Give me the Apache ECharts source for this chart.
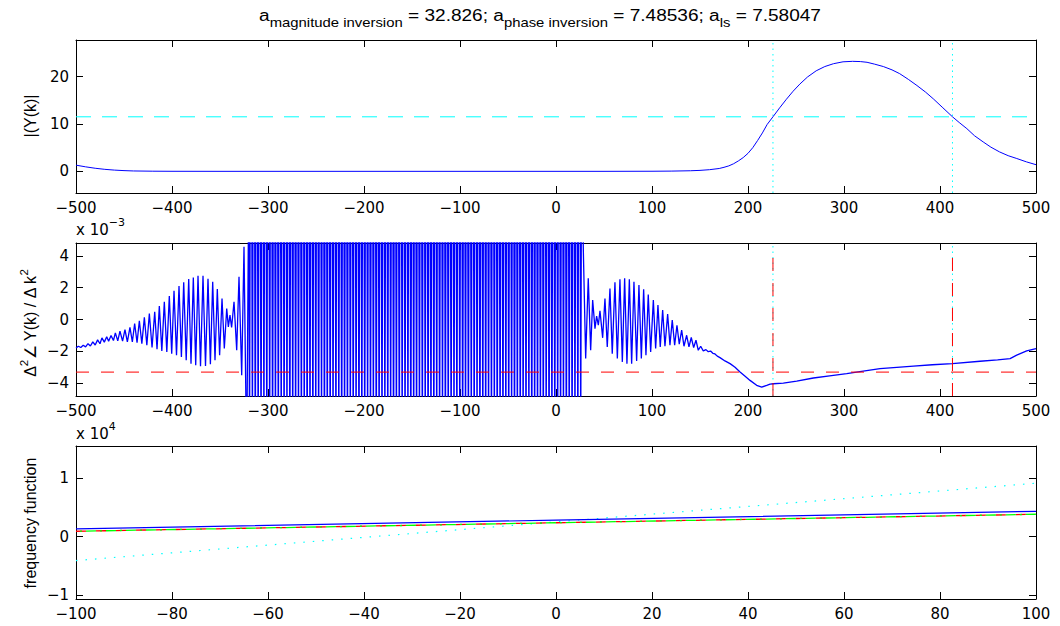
<!DOCTYPE html>
<html>
<head>
<meta charset="utf-8">
<script src="https://cdn.jsdelivr.net/npm/echarts@6/dist/echarts.min.js"></script>
<style>
  html, body { margin: 0; padding: 0; background: #fff; }
  #chart { width: 1060px; height: 626px; }
</style>
</head>
<body>
<div id="chart"></div>
<script>
// ---------- data ----------
// |Y(k)| magnitude spectrum
const magK   = [-500, -490, -480, -470, -460, -450, -440, -420, -400, -350, -300, -200, -100, 0, 50, 100, 120, 140, 150, 160, 170, 175, 180, 185, 190, 195, 200, 205, 210, 215, 220, 226, 233, 240, 247, 254, 262, 271, 280, 289, 299, 309, 317, 324, 332, 341, 350, 358, 367, 376, 385, 393, 403, 413, 420, 428, 436, 445, 453, 462, 471, 480, 490, 500];
const magVal = [1.3, 0.95, 0.65, 0.42, 0.26, 0.15, 0.08, 0.03, 0.01, 0.0, 0.0, 0.0, 0.0, 0.0, 0.0, 0.02, 0.05, 0.12, 0.2, 0.35, 0.6, 0.85, 1.15, 1.6, 2.2, 2.9, 3.8, 5.0, 6.5, 8.1, 9.9, 11.5, 13.4, 15.2, 16.9, 18.4, 19.9, 21.2, 22.1, 22.7, 23.1, 23.2, 23.15, 23.0, 22.6, 22.1, 21.4, 20.6, 19.4, 18.1, 16.7, 15.3, 13.4, 11.5, 10.3, 9.0, 7.5, 6.2, 5.1, 4.1, 3.3, 2.7, 2.0, 1.4];
const magLevel = 11.5;          // half-peak level
const crossK = [226, 413];      // where |Y(k)| crosses the level

// second difference of the phase, in units of 1e-3
const phaseLeftK = [-500, -497.5, -495, -492.5, -490, -487.5, -485, -482.5, -480, -477.5, -475, -473, -470.5, -468, -466, -463.5, -461, -459, -456.5, -454.2, -451.5, -449, -446.5, -443.8, -441.3, -438.9, -436.4, -434, -431.4, -428.8, -426.2, -423.6, -420.8, -418, -415.6, -413.2, -410.6, -408, -405.4, -402.8, -400.3, -397.9, -395.3, -392.7, -390.2, -387.8, -385.2, -382.6, -380.2, -377.8, -375.3, -372.9, -370.3, -367.7, -365.1, -362.5, -360, -357.6, -355.2, -352.8, -350.4, -347.9, -345.5, -343, -341.3, -339.6, -337.9, -335.4, -332.6, -330.2, -327.4, -325, -322.2];
const phaseLeftVal = [-1.78, -1.68, -1.76, -1.62, -1.72, -1.52, -1.66, -1.40, -1.60, -1.28, -1.52, -1.15, -1.42, -1.08, -1.36, -1.00, -1.32, -0.84, -1.34, -0.73, -1.36, -0.63, -1.40, -0.50, -1.40, -0.25, -1.45, -0.08, -1.51, 0.13, -1.61, 0.38, -1.76, 0.48, -1.87, 0.84, -1.97, 1.11, -2.03, 1.47, -2.14, 1.80, -2.24, 2.10, -2.35, 2.33, -2.56, 2.54, -2.77, 2.64, -2.87, 2.75, -2.94, 2.75, -2.92, 2.56, -2.80, 2.37, -2.56, 1.91, -2.24, 1.32, -1.82, 0.69, -0.46, 0.27, -0.50, 1.11, -1.93, 2.68, -3.50, 4.57, -9.0];

// samples every 0.75 from k = -320 to k = 27.25, far beyond the plotted range
const denseStartK = -320;
const denseStepK = 0.75;
const denseVal = [
  9, -9, 9, 8, 10, -8, 9, 9, 9, -10, 8, 9, 9, -9, 10, 9, 8, -9, 9, 10, 9, -8, 9, 9,
  9, -9, 9, 8, 10, -8, 9, 9, 9, -10, 8, 9, 9, -9, 10, 9, 8, -9, 9, 10, 9, -8, 9, 9,
  9, -9, 9, 8, 10, -8, 9, 9, 9, -10, 8, 9, 9, -9, 10, 9, 8, -9, 9, 10, 9, -8, 9, 9,
  9, -9, 9, 8, 10, -8, 9, 9, 9, -10, 8, 9, 9, -9, 10, 9, 8, -9, 9, 10, 9, -8, 9, 9,
  9, -9, 9, 8, 10, -8, 9, 9, 9, -10, 8, 9, 9, -9, 10, 9, 8, -9, 9, 10, 9, -8, 9, 9,
  9, -9, 9, 8, 10, -8, 9, 9, 9, -10, 8, 9, 9, -9, 10, 9, 8, -9, 9, 10, 9, -8, 9, 9,
  9, -9, 9, 8, 10, -8, 9, 9, 9, -10, 8, 9, 9, -9, 10, 9, 8, -9, 9, 10, 9, -8, 9, 9,
  9, -9, 9, 8, 10, -8, 9, 9, 9, -10, 8, 9, 9, -9, 10, 9, 8, -9, 9, 10, 9, -8, 9, 9,
  9, -9, 9, 8, 10, -8, 9, 9, 9, -10, 8, 9, 9, -9, 10, 9, 8, -9, 9, 10, 9, -8, 9, 9,
  9, -9, 9, 8, 10, -8, 9, 9, 9, -10, 8, 9, 9, -9, 10, 9, 8, -9, 9, 10, 9, -8, 9, 9,
  9, -9, 9, 8, 10, -8, 9, 9, 9, -10, 8, 9, 9, -9, 10, 9, 8, -9, 9, 10, 9, -8, 9, 9,
  9, -9, 9, 8, 10, -8, 9, 9, 9, -10, 8, 9, 9, -9, 10, 9, 8, -9, 9, 10, 9, -8, 9, 9,
  9, -9, 9, 8, 10, -8, 9, 9, 9, -10, 8, 9, 9, -9, 10, 9, 8, -9, 9, 10, 9, -8, 9, 9,
  9, -9, 9, 8, 10, -8, 9, 9, 9, -10, 8, 9, 9, -9, 10, 9, 8, -9, 9, 10, 9, -8, 9, 9,
  9, -9, 9, 8, 10, -8, 9, 9, 9, -10, 8, 9, 9, -9, 10, 9, 8, -9, 9, 10, 9, -8, 9, 9,
  9, -9, 9, 8, 10, -8, 9, 9, 9, -10, 8, 9, 9, -9, 10, 9, 8, -9, 9, 10, 9, -8, 9, 9,
  9, -9, 9, 8, 10, -8, 9, 9, 9, -10, 8, 9, 9, -9, 10, 9, 8, -9, 9, 10, 9, -8, 9, 9,
  9, -9, 9, 8, 10, -8, 9, 9, 9, -10, 8, 9, 9, -9, 10, 9, 8, -9, 9, 10, 9, -8, 9, 9,
  9, -9, 9, 8, 10, -8, 9, 9, 9, -10, 8, 9, 9, -9, 10, 9, 8, -9, 9, 10, 9, -8, 9, 9,
  9, -9, 9, 8, 10, -8, 9, 9
];

const phaseRightK = [28.5, 30.9, 33.6, 36.1, 38.2, 40.6, 42.3, 44.1, 45.8, 48.6, 51, 53.4, 56.2, 58.6, 61.4, 63.9, 66.6, 69.1, 71.5, 73.9, 76.4, 78.8, 81.2, 84, 86.4, 88.9, 91.3, 93.7, 96.1, 98.6, 101.4, 103.8, 106.2, 108.6, 111.1, 113.5, 116.3, 118.7, 121.1, 123.6, 126, 128.4, 130.9, 133.3, 136.1, 138.5, 140.9, 143.4, 145.8, 148.2, 150.7, 153.4, 156.2, 158.6, 161, 163.4, 165.6, 168, 170.8, 176, 181.3, 186.5, 191.7, 197, 202.1, 209, 214.3, 219.5, 223, 226.4, 236.8, 250.7, 268.1, 285, 302.8, 320, 337.5, 355, 372.3, 392, 412.9, 441.7, 460, 473, 479.9, 490.3, 500];
const phaseRightVal = [4.26, -2.45, 2.58, -1.93, 1.22, -0.57, 0.21, -0.36, 0.55, -1.15, 1.32, -1.72, 1.95, -2.14, 2.33, -2.45, 2.52, -2.66, 2.58, -2.77, 2.52, -2.77, 2.37, -2.60, 2.16, -2.45, 1.89, -2.24, 1.57, -2.03, 1.22, -1.82, 0.90, -1.72, 0.59, -1.68, 0.34, -1.61, -0.04, -1.61, -0.36, -1.55, -0.67, -1.68, -0.99, -1.72, -1.13, -1.76, -1.30, -1.93, -1.68, -1.97, -1.89, -2.02, -1.98, -2.12, -2.16, -2.30, -2.39, -2.60, -2.77, -3.00, -3.29, -3.56, -3.82, -4.13, -4.24, -4.13, -4.05, -4.03, -3.99, -3.86, -3.67, -3.54, -3.40, -3.24, -3.08, -3.00, -2.92, -2.84, -2.77, -2.62, -2.53, -2.45, -2.24, -1.97, -1.82];
const phaseLevel = -3.3;
const phaseMarkTop = 4.55;

// frequency functions, in units of 1e4
const freqK     = [-100, 0, 100];
const freqBlue  = [0.13, 0.28, 0.43];
const freqRed   = [0.09, 0.235, 0.38];
const freqGreen = [0.09, 0.235, 0.38];
const freqCyan  = [-0.41, 0.25, 0.91];

// axis ranges and tick labels
const kRange   = [-500, 500];
const fkRange  = [-100, 100];
const magRange = [-4.57, 27.7],  magTicks = [0, 10, 20];
const phRange  = [-4.8, 4.8],    phTicks  = [-4, -2, 0, 2, 4];
const frRange  = [-1.066, 1.545], frTicks = [-1, 0, 1];

// ---------- helpers ----------
const zip = (xs, ys) => xs.map((x, i) => [x, ys[i]]);
const phaseData = zip(phaseLeftK, phaseLeftVal)
  .concat(denseVal.map((v, i) => [denseStartK + i * denseStepK, v]))
  .concat(zip(phaseRightK, phaseRightVal));

const BLUE = '#0000ff', CYAN = '#00ffff', RED = '#ff0000', GREEN = '#00ff00';
const TICK_FONT = { fontFamily: 'DejaVu Sans', fontSize: 15, color: '#000' };
const minus = v => String(v).replace('-', '\u2212');

function xAxes(gi, range, interval) {
  const base = {
    type: 'value', gridIndex: gi, min: range[0], max: range[1], interval,
    axisLine: { show: true, onZero: false, lineStyle: { color: '#000', width: 1 } },
    axisTick: { show: true, inside: true, length: 7, lineStyle: { color: '#000' } },
    splitLine: { show: false }
  };
  return [
    Object.assign({}, base, { position: 'bottom',
      axisLabel: Object.assign({ show: true, margin: 7, formatter: minus, showMinLabel: true, showMaxLabel: true }, TICK_FONT) }),
    Object.assign({}, base, { position: 'top', axisLabel: { show: false } })
  ];
}
function yAxes(gi, range, ticks) {
  const base = {
    type: 'value', gridIndex: gi, min: range[0], max: range[1],
    axisLine: { show: true, onZero: false, lineStyle: { color: '#000', width: 1 } },
    axisTick: { show: true, inside: true, length: 7, customValues: ticks, lineStyle: { color: '#000' } },
    splitLine: { show: false }
  };
  return [
    Object.assign({}, base, { position: 'left',
      axisLabel: Object.assign({ show: true, margin: 7, customValues: ticks, formatter: minus }, TICK_FONT) }),
    Object.assign({}, base, { position: 'right', axisLabel: { show: false } })
  ];
}
function lineSeries(ax, data, color, type, width, z, dashOffset) {
  return {
    type: 'line', xAxisIndex: ax, yAxisIndex: ax, data, showSymbol: false, symbol: 'none',
    lineStyle: { color, width: width || 1, type: type || 'solid', dashOffset: dashOffset || 0 },
    itemStyle: { color }, clip: true, silent: true, animation: false, z: z || 2
  };
}
const DOT = [1.5, 4], DASH_C = [15, 11], DASH_R = [13, 12];

const chart = echarts.init(document.getElementById('chart'), null, { renderer: 'svg' });

const gridBase = { left: 76, right: 24, height: 153, outerBoundsMode: 'none', containLabel: false };

const series = [];
// |Y(k)| panel
crossK.forEach(k => series.push(lineSeries(0, [[k, magRange[0]], [k, magRange[1]]], CYAN, DOT, 1)));
series.push(lineSeries(0, zip(magK, magVal), BLUE, 'solid', 1, 3));
series.push(lineSeries(0, [[kRange[0], magLevel], [kRange[1], magLevel]], CYAN, DASH_C, 1, 4));
// phase second-difference panel
crossK.forEach(k => series.push(lineSeries(2, [[k, phRange[0]], [k, phRange[1]]], CYAN, DOT, 1)));
series.push(lineSeries(2, phaseData, BLUE, 'solid', 1.3, 3));
series.push(lineSeries(2, [[kRange[0], phaseLevel], [kRange[1], phaseLevel]], RED, DASH_R, 1, 4));
crossK.forEach(k => series.push(lineSeries(2, [[k, phRange[0]], [k, phaseMarkTop]], RED, DASH_R, 1, 4)));
// frequency-function panel
series.push(lineSeries(4, zip(freqK, freqCyan), CYAN, [1.5, 8], 1.2));
series.push(lineSeries(4, zip(freqK, freqRed), RED, [10, 10], 1.3));
series.push(lineSeries(4, zip(freqK, freqGreen), GREEN, [10, 4, 2, 4], 1.3, 2, 10));
series.push(lineSeries(4, zip(freqK, freqBlue), BLUE, 'solid', 1.2, 3));

chart.setOption({
  backgroundColor: '#fff',
  animation: false,
  grid: [
    Object.assign({ top: 40 }, gridBase),
    Object.assign({ top: 243 }, gridBase),
    Object.assign({ top: 446 }, gridBase)
  ],
  xAxis: [].concat(xAxes(0, kRange, 100), xAxes(1, kRange, 100), xAxes(2, fkRange, 20)),
  yAxis: [].concat(yAxes(0, magRange, magTicks), yAxes(1, phRange, phTicks), yAxes(2, frRange, frTicks)),
  series,
  graphic: [
    {
      // title, drawn with a slightly widened face
      type: 'text', x: 540, y: 16, scaleX: 1.19, silent: true,
      style: {
        text: '{m|a}{s|magnitude inversion}{m| = 32.826; a}{s|phase inversion}{m| = 7.48536; a}{s|ls}{m| = 7.58047}',
        align: 'center', verticalAlign: 'middle', fill: '#000',
        fontFamily: 'Liberation Sans', fontSize: 16,
        rich: {
          m: { fontFamily: 'Liberation Sans', fontSize: 16, fill: '#000', lineHeight: 20 },
          s: { fontFamily: 'Liberation Sans', fontSize: 12.5, fill: '#000', padding: [13, 0, 0, 0] }
        }
      }
    },
    {
      type: 'text', x: 30, y: 116, rotation: Math.PI / 2, silent: true,
      style: { text: '|(Y(k)|', align: 'center', verticalAlign: 'middle', fill: '#000', fontFamily: 'Liberation Sans', fontSize: 16 }
    },
    {
      type: 'text', x: 30, y: 323, rotation: Math.PI / 2, silent: true,
      style: {
        text: '{m|\u0394}{p|2}{m|\u2220 Y(k) / \u0394 k}{p|2}',
        align: 'center', verticalAlign: 'middle', fill: '#000', fontFamily: 'Liberation Sans', fontSize: 16,
        rich: {
          m: { fontFamily: 'Liberation Sans', fontSize: 16, fill: '#000', lineHeight: 18 },
          p: { fontFamily: 'Liberation Sans', fontSize: 11.5, fill: '#000', padding: [0, 0, 12, 0] }
        }
      }
    },
    {
      type: 'text', x: 30, y: 523, rotation: Math.PI / 2, silent: true,
      style: { text: 'frequency function', align: 'center', verticalAlign: 'middle', fill: '#000', fontFamily: 'Liberation Sans', fontSize: 16 }
    },
    {
      type: 'text', x: 76, y: 230, silent: true,
      style: {
        text: '{m|x 10}{p|\u22123}', align: 'left', verticalAlign: 'middle', fill: '#000',
        fontFamily: 'DejaVu Sans', fontSize: 15,
        rich: {
          m: { fontFamily: 'DejaVu Sans', fontSize: 15, fill: '#000', lineHeight: 18 },
          p: { fontFamily: 'DejaVu Sans', fontSize: 11, fill: '#000', padding: [0, 0, 16, 0] }
        }
      }
    },
    {
      type: 'text', x: 76, y: 434, silent: true,
      style: {
        text: '{m|x 10}{p|4}', align: 'left', verticalAlign: 'middle', fill: '#000',
        fontFamily: 'DejaVu Sans', fontSize: 15,
        rich: {
          m: { fontFamily: 'DejaVu Sans', fontSize: 15, fill: '#000', lineHeight: 18 },
          p: { fontFamily: 'DejaVu Sans', fontSize: 11, fill: '#000', padding: [0, 0, 16, 0] }
        }
      }
    }
  ]
});
</script>
</body>
</html>
